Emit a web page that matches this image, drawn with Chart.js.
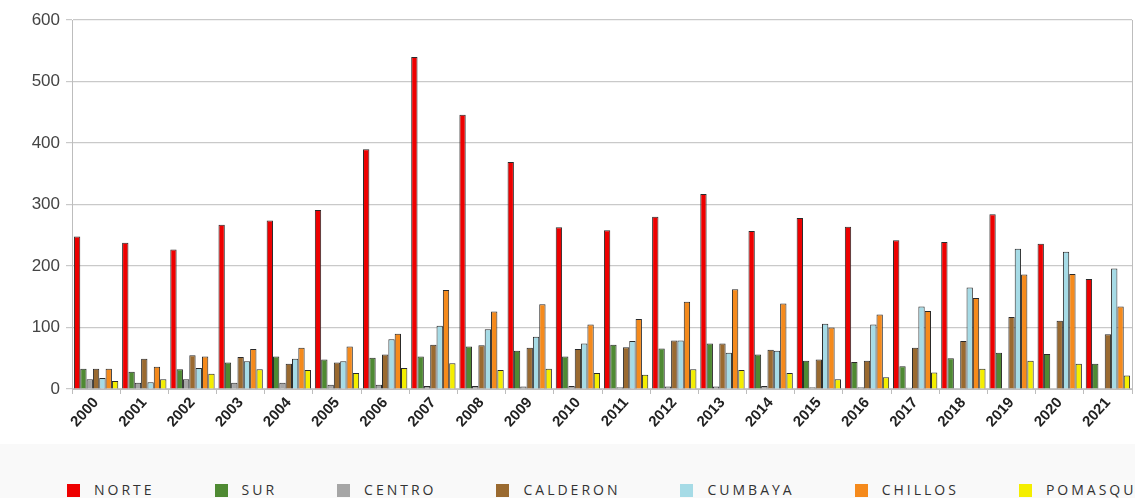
<!DOCTYPE html>
<html>
<head>
<meta charset="utf-8">
<script src="https://cdn.jsdelivr.net/npm/chart.js@4.4.0/dist/chart.umd.min.js"></script>
<style>
	body { margin: 0; background: #fff; }
	#wrap { width: 1135px; height: 444px; position: relative; }
	#legend { width: 1135px; height: 54px; background: #f9f9f9; box-sizing: border-box; padding: 38px 0 0 67px; display: flex; white-space: nowrap; overflow: hidden; }
	.item { display: flex; align-items: center; margin-right: 60px; font-family: "Open Sans", sans-serif; font-size: 14px; letter-spacing: 3px; color: #333; line-height: 16px; }
	.box { width: 13px; height: 13px; margin-right: 14px; }
</style>
</head>
<body>
<div id="wrap"><canvas id="myChart"></canvas></div>
<div id="legend"></div>
<script>
var years = ['2000','2001','2002','2003','2004','2005','2006','2007','2008','2009','2010','2011','2012','2013','2014','2015','2016','2017','2018','2019','2020','2021'];
var yTicks = [0, 100, 200, 300, 400, 500, 600];

var norte = [248, 238, 227, 267, 274, 291, 390, 540, 446, 369, 263, 258, 280, 317, 257, 278, 264, 242, 239, 284, 236, 179];
var sur = [33, 28, 32, 43, 53, 48, 51, 53, 69, 62, 53, 72, 66, 74, 56, 46, 44, 37, 50, 59, 57, 41];
var centro = [16, 10, 16, 10, 10, 7, 7, 5, 5, 4, 5, 3, 4, 4, 5, 3, 3, 2, 1, 1, 1, 1];
var calderon = [33, 49, 55, 52, 41, 43, 56, 72, 71, 67, 65, 68, 79, 74, 64, 48, 46, 67, 78, 117, 111, 89];
var cumbaya = [18, 11, 34, 45, 49, 45, 81, 103, 97, 85, 74, 78, 79, 59, 62, 106, 105, 134, 165, 228, 223, 196];
var chillos = [33, 36, 53, 65, 67, 69, 90, 161, 126, 138, 105, 114, 142, 162, 139, 100, 121, 127, 148, 186, 187, 134];
var pomasqui = [13, 16, 25, 32, 31, 26, 34, 42, 31, 33, 26, 23, 32, 31, 26, 16, 19, 27, 33, 46, 41, 22];

var names = ['NORTE', 'SUR', 'CENTRO', 'CALDERON', 'CUMBAYA', 'CHILLOS', 'POMASQUI'];
var series = [norte, sur, centro, calderon, cumbaya, chillos, pomasqui];
var colors = ['#ee0000', '#4f8a33', '#a6a6a6', '#9a6a30', '#a6dbe6', '#f58a1c', '#f4ee00'];

var datasets = [];
series.forEach((s, i) => {
	datasets.push({
		label: names[i],
		data: s,
		backgroundColor: colors[i],
		borderColor: '#2a2a2a',
		borderWidth: 1,
		borderSkipped: 'bottom',
		barPercentage: 1.0,
		categoryPercentage: 0.92
	});
});

// right edge line of the plot area
var rightBorder = {
	id: 'rightBorder',
	afterDraw(chart) {
		const c = chart.ctx, a = chart.chartArea;
		c.save();
		c.strokeStyle = '#bdbdbd';
		c.lineWidth = 1;
		c.beginPath();
		c.moveTo(a.right + 0.5, a.top);
		c.lineTo(a.right + 0.5, a.bottom);
		c.stroke();
		c.restore();
	}
};

const ctx = document.getElementById('myChart').getContext('2d');
const myChart = new Chart(ctx, {
	type: 'bar',
	data: { labels: years, datasets: datasets },
	plugins: [rightBorder],
	options: {
		responsive: true,
		maintainAspectRatio: false,
		animation: false,
		layout: { padding: { top: 20, right: 3, left: 0, bottom: 0 } },
		plugins: {
			legend: { display: false },
			tooltip: { enabled: false }
		},
		scales: {
			x: {
				grid: { display: true, drawOnChartArea: false, offset: true, tickLength: 5, color: '#bdbdbd' },
				border: { color: '#bdbdbd' },
				ticks: {
					autoSkip: false,
					maxRotation: 48,
					minRotation: 48,
					padding: 0,
					color: '#222',
					font: { family: 'Liberation Sans', size: 15, weight: 'bold' }
				},
				afterFit: function(scale) { scale.height = 55; }
			},
			y: {
				min: 0,
				max: 600,
				afterBuildTicks: function(scale) { scale.ticks = yTicks.map(v => ({ value: v })); },
				grid: { color: '#c9c9c9', lineWidth: 1.2, tickLength: 6 },
				border: { color: '#bdbdbd' },
				ticks: {
					padding: 6,
					color: '#444',
					font: { family: 'Liberation Sans', size: 17 }
				},
				afterFit: function(scale) { scale.width = 72; }
			}
		}
	}
});

// legend below the chart
var htmlLegend = '';
names.forEach((n, i) => {
	htmlLegend += '<div class="item"><span class="box" style="background:' + colors[i] + '"></span>' + n + '</div>';
});
document.getElementById('legend').innerHTML = htmlLegend;
</script>
</body>
</html>
